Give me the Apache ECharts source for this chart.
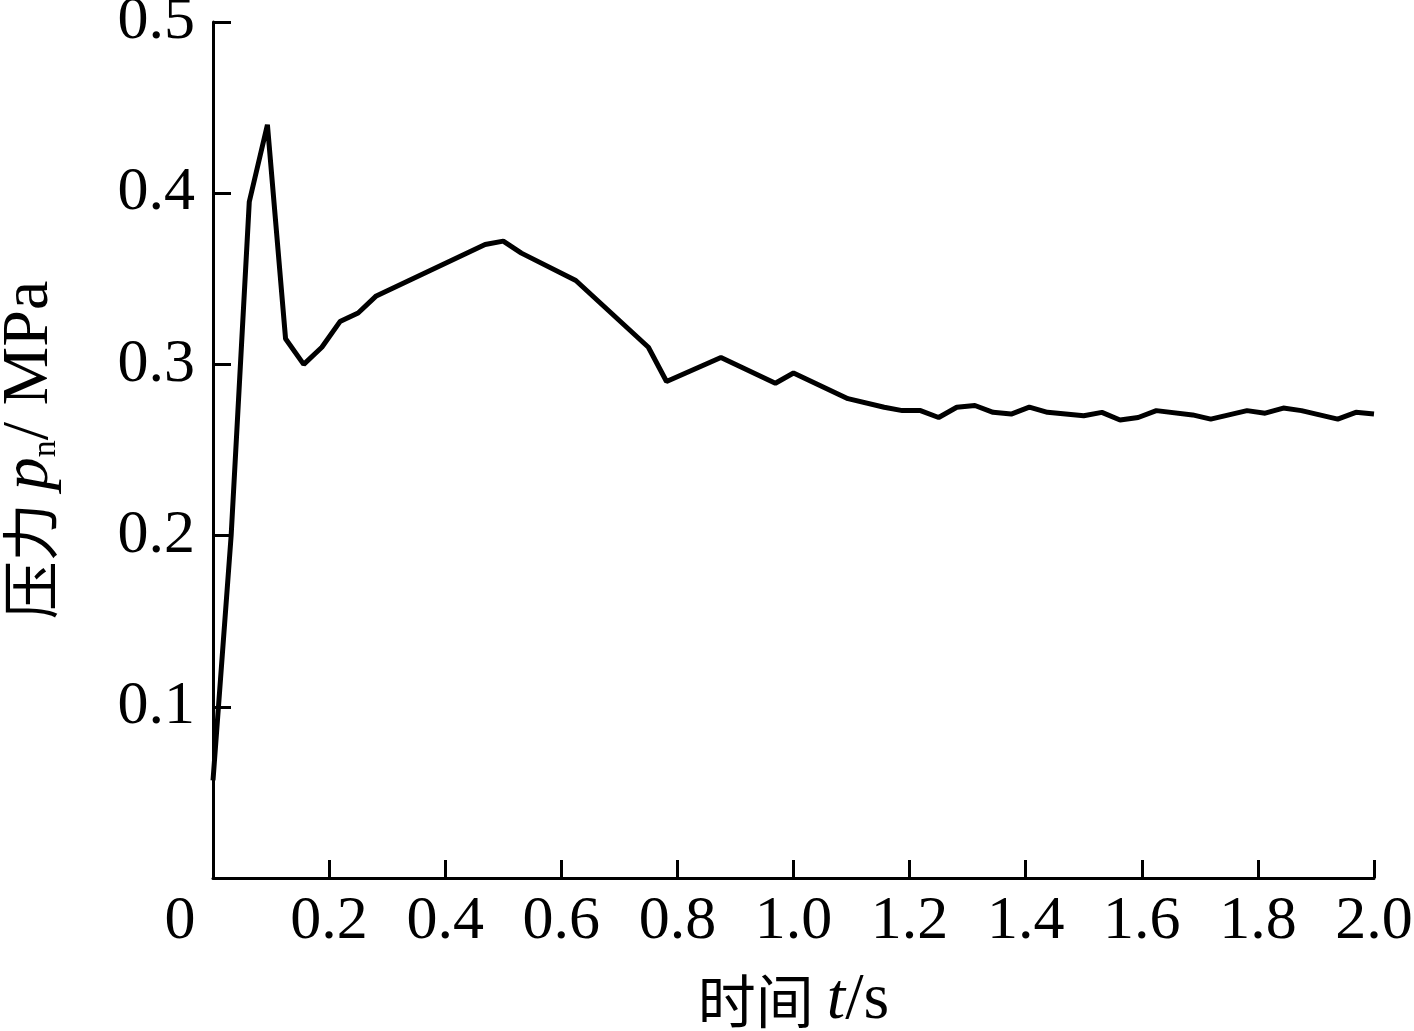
<!DOCTYPE html>
<html>
<head>
<meta charset="utf-8">
<script src="https://cdn.jsdelivr.net/npm/echarts@6/dist/echarts.min.js"></script>
<style>
html,body{margin:0;padding:0;background:#fff;}
#c{width:1414px;height:1031px;}
</style>
</head>
<body>
<div id="c"></div>
<script>
// time (s)
var times = [0, 0.03125, 0.0625, 0.09375, 0.125, 0.15625, 0.1875, 0.21875, 0.25, 0.28125,
  0.46875, 0.5, 0.53125, 0.625, 0.75, 0.78125, 0.875, 0.96875, 1.0, 1.09375,
  1.15625, 1.1875, 1.21875, 1.25, 1.28125, 1.3125, 1.34375, 1.375, 1.40625, 1.4375,
  1.5, 1.53125, 1.5625, 1.59375, 1.625, 1.6875, 1.71875, 1.78125, 1.8125, 1.84375,
  1.875, 1.9375, 1.96875, 2.0];
// pressure p_n (MPa)
var pressure = [0.057, 0.20, 0.395, 0.44, 0.315, 0.30, 0.31, 0.325, 0.33, 0.34,
  0.370, 0.372, 0.365, 0.349, 0.310, 0.290, 0.304, 0.289, 0.295, 0.280,
  0.275, 0.273, 0.273, 0.269, 0.275, 0.276, 0.272, 0.271, 0.275, 0.272,
  0.270, 0.272, 0.2675, 0.269, 0.273, 0.2705, 0.268, 0.273, 0.2715, 0.2745,
  0.273, 0.268, 0.272, 0.271];
var xTickLabels = ['0', '0.2', '0.4', '0.6', '0.8', '1.0', '1.2', '1.4', '1.6', '1.8', '2.0'];
var yTickLabels = ['0', '0.1', '0.2', '0.3', '0.4', '0.5'];

var data = times.map(function (t, i) { return [t, pressure[i]]; });
var numFont = 'Liberation Serif';
var chart = echarts.init(document.getElementById('c'));
chart.setOption({
  animation: false,
  backgroundColor: '#fff',
  grid: { left: 213, right: 40, top: 22, bottom: 153, containLabel: false, outerBoundsMode: 'none' },
  xAxis: {
    type: 'value', min: 0, max: 2, interval: 0.2,
    axisLine: { show: true, lineStyle: { color: '#000', width: 3 } },
    axisTick: { show: true, inside: true, length: 18, lineStyle: { color: '#000', width: 3 } },
    splitLine: { show: false },
    axisLabel: {
      margin: 13, color: '#000', fontFamily: numFont, fontSize: 62,
      formatter: function (v) {
        var i = Math.round(v / 0.2);
        return i === 0 ? '{z|' + xTickLabels[0] + '}' : xTickLabels[i];
      },
      rich: { z: { fontFamily: numFont, fontSize: 62, color: '#000', padding: [0, 66, 0, 0] } }
    },
    name: '{cn|时间 }{it|t}{n|/s}',
    nameLocation: 'middle', nameGap: 90,
    nameTextStyle: {
      rich: {
        cn: { fontFamily: 'Noto Sans CJK SC', fontSize: 58, color: '#000' },
        it: { fontFamily: numFont, fontStyle: 'italic', fontSize: 66, color: '#000' },
        n: { fontFamily: numFont, fontSize: 66, color: '#000' }
      }
    }
  },
  yAxis: {
    type: 'value', min: 0, max: 0.5, interval: 0.1,
    axisLine: { show: true, lineStyle: { color: '#000', width: 3 } },
    axisTick: { show: true, inside: true, length: 18, lineStyle: { color: '#000', width: 3 } },
    splitLine: { show: false },
    axisLabel: {
      margin: 18, color: '#000', fontFamily: numFont, fontSize: 62, showMinLabel: false,
      formatter: function (v) { return yTickLabels[Math.round(v / 0.1)]; }
    },
    name: '{cn|压力 }{it|p}{sub|n}{n|/ MPa}',
    nameLocation: 'middle', nameRotate: 90, nameGap: 150,
    nameTextStyle: {
      rich: {
        cn: { fontFamily: 'Noto Sans CJK SC', fontSize: 58, color: '#000' },
        it: { fontFamily: numFont, fontStyle: 'italic', fontSize: 66, color: '#000' },
        sub: { fontFamily: numFont, fontSize: 34, color: '#000', verticalAlign: 'bottom' },
        n: { fontFamily: numFont, fontSize: 66, color: '#000' }
      }
    }
  },
  series: [{
    type: 'line', data: data, showSymbol: false, symbol: 'none',
    lineStyle: { color: '#000', width: 5 }
  }]
});
</script>
</body>
</html>
